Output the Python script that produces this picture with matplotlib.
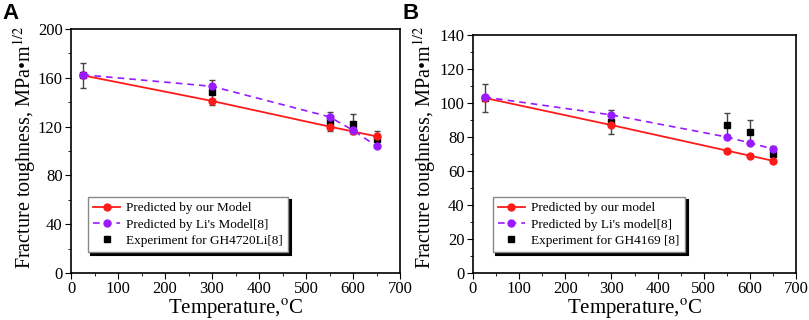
import matplotlib.pyplot as plt
from matplotlib.ticker import MultipleLocator

temps = [25, 300, 550, 600, 650]

# panel A - GH4720Li
a_ours = [162, 141, 120, 116, 112]
a_li = [162.5, 153, 128, 117, 104]
a_exp = [162, 148, 124, 122, 110]
a_err = [10, 10, 8, 8, 6]

# panel B - GH4169
b_ours = [103, 87, 72, 69, 66]
b_li = [103.5, 93, 80, 76.5, 73]
b_exp = [103, 89, 87, 83, 70]
b_err = [8, 7, 7, 7, 5]

plt.rcParams['font.family'] = 'Liberation Serif'
plt.rcParams['mathtext.fontset'] = 'stix'

fig = plt.figure(figsize=(8.09, 3.2), dpi=100)
ax_a = fig.add_axes([71 / 809, 47 / 320, 329 / 809, 244 / 320])
ax_b = fig.add_axes([473 / 809, 47 / 320, 323 / 809, 238 / 320])

panels = [
    (ax_a, a_ours, a_li, a_exp, a_err, 200, 40, (0.052, 0.086), (-0.10, 0.515),
     ['Predicted by our Model', "Predicted by Li's Model[8]", 'Experiment for GH4720Li[8]']),
    (ax_b, b_ours, b_li, b_exp, b_err, 140, 20, (0.062, 0.088), (-0.108, 0.53),
     ['Predicted by our model', "Predicted by Li's model[8]", 'Experiment for GH4169 [8]']),
]

for ax, ours, li, exp, err, ymax, ystep, anchor, ylab_pos, labels in panels:
    ax.errorbar(temps, exp, yerr=err, fmt='none', ecolor='#444444',
                elinewidth=1, capsize=2.5, capthick=1, zorder=2)
    ax.plot(temps, exp, 's', color='black', ms=5, label=labels[2], zorder=3)
    ax.plot(temps, ours, '-o', color='#ff1a1a', lw=1.3, ms=5, label=labels[0], zorder=4)
    ax.plot(temps, li, '--o', color='#9a1aff', lw=1.2, ms=5, label=labels[1],
            dashes=(4, 3), zorder=5)

    ax.set_xlim(0, 700)
    ax.set_ylim(0, ymax)
    ax.xaxis.set_major_locator(MultipleLocator(100))
    ax.xaxis.set_minor_locator(MultipleLocator(50))
    ax.yaxis.set_major_locator(MultipleLocator(ystep))
    ax.yaxis.set_minor_locator(MultipleLocator(ystep / 2))
    ax.tick_params(which='both', direction='out', top=False, right=False,
                   labelsize=12, pad=2)
    ax.tick_params(which='major', length=4)
    ax.tick_params(which='minor', length=2.5)
    for sp in ax.spines.values():
        sp.set_linewidth(1.2)

    ax.set_xlabel('Temperature,$^{\\mathrm{o}}$C', fontsize=15, labelpad=0)
    ax.set_ylabel('Fracture toughness, MPa\u2022m$^{1/2}$', fontsize=14.5)
    ax.yaxis.set_label_coords(*ylab_pos)

    handles, labs = ax.get_legend_handles_labels()
    order = [1, 2, 0]
    ax.legend([handles[i] for i in order], [labs[i] for i in order],
              loc='lower left', bbox_to_anchor=anchor, borderaxespad=0,
              fontsize=9.5, fancybox=False, edgecolor='#888888',
              framealpha=1, handlelength=2.0, borderpad=0.4,
              labelspacing=0.3, handletextpad=0.5,
              shadow={'color': 'black', 'alpha': 1, 'linewidth': 1.5})

fig.text(0.003, 0.99, 'A', fontsize=16, fontweight='bold',
         family='Liberation Sans', va='top')
fig.text(0.497, 0.99, 'B', fontsize=16, fontweight='bold',
         family='Liberation Sans', va='top')

fig.savefig('out.png', dpi=100)
